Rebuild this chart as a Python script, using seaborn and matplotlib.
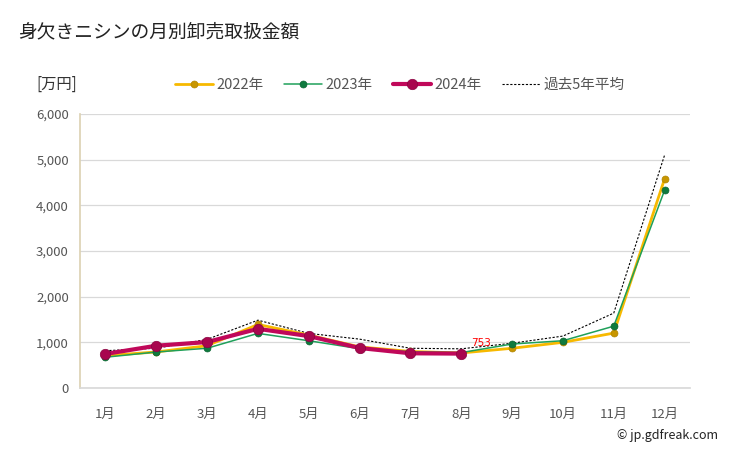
import matplotlib
matplotlib.use("Agg")
import matplotlib.pyplot as plt
import seaborn as sns
import pandas as pd
import numpy as np

months = ["1月", "2月", "3月", "4月", "5月", "6月", "7月", "8月", "9月", "10月", "11月", "12月"]
v2022 = [709, 789, 926, 1391, 1160, 900, 800, 767, 870, 1000, 1202, 4580]
v2023 = [674, 788, 870, 1196, 1035, 860, 795, 775, 963, 1035, 1354, 4330]
v2024 = [746, 926, 1006, 1296, 1137, 876, 760, 753]
avg5 = [817, 870, 1065, 1485, 1196, 1070, 870, 858, 980, 1137, 1640, 5100]
yticks = [0, 1000, 2000, 3000, 4000, 5000, 6000]

sns.set_theme(style="white")
plt.rcParams['font.family'] = ['Noto Sans CJK JP', 'DejaVu Sans']

fig = plt.figure(figsize=(7.29, 4.5), dpi=100)
ax = fig.add_axes([80/729, 1-388/450, 610/729, (388-114)/450])

x = np.arange(len(months))
sns.lineplot(x=x, y=avg5, ax=ax, color="black", linestyle=(0, (2, 1.5)), linewidth=0.8,
             label="過去5年平均", zorder=2)
sns.lineplot(x=x, y=v2022, ax=ax, color="#f7b900", linewidth=2, marker="o", markersize=5,
             markerfacecolor="#c89600", markeredgecolor="#b08400", markeredgewidth=0.5,
             label="2022年", zorder=3)
sns.lineplot(x=x, y=v2023, ax=ax, color="#1fa05a", linewidth=1.1, marker="o", markersize=5,
             markerfacecolor="#0e7a3e", markeredgecolor="#0b6532", markeredgewidth=0.5,
             label="2023年", zorder=4)
sns.lineplot(x=x[:len(v2024)], y=v2024, ax=ax, color="#c0085a", linewidth=3, marker="o", markersize=7.5,
             markerfacecolor="#a8064e", markeredgecolor="#8a0340", markeredgewidth=0.5,
             label="2024年", zorder=5)

ax.text(x[len(v2024)-1] + 0.2, v2024[-1] + 240, str(v2024[-1]), color="red", fontsize=7.5,
        ha="left", va="center", family=['DejaVu Sans'], zorder=10)

ax.set_xlim(-0.5, 11.5)
ax.set_ylim(0, 6000)
ax.set_yticks(yticks)
ax.set_yticklabels([f"{v:,}" for v in yticks])
ax.set_xticks(x)
ax.set_xticklabels(months)
ax.tick_params(axis="both", labelsize=9.5, colors="#555555", length=0, pad=8)
ax.tick_params(axis="x", pad=14)
ax.yaxis.grid(True, color="#d9d9d9", linewidth=0.9)
ax.set_axisbelow(True)
for s in ["top", "right"]:
    ax.spines[s].set_visible(False)
ax.spines["left"].set_color("#ddd3b5")
ax.spines["bottom"].set_color("#d9d9d9")
ax.set_xlabel("")
ax.set_ylabel("")

h, l = ax.get_legend_handles_labels()
order = [1, 2, 3, 0]
leg = fig.legend([h[i] for i in order], [l[i] for i in order], loc="center",
                 bbox_to_anchor=(400/729, 1-85/450), ncol=4, frameon=False, fontsize=10.5,
                 handlelength=2.6, columnspacing=1.4, handletextpad=0.25)
for t in leg.get_texts():
    t.set_color("#555555")
if ax.get_legend():
    ax.get_legend().remove()

fig.text(18/729, 1-32/450, "身欠きニシンの月別卸売取扱金額", fontsize=13.5, color="#222222", va="center", ha="left")
fig.text(36/729, 1-84/450, "[万円]", fontsize=11, color="#333333", va="center", ha="left")
fig.text(718/729, 1-436/450, "© jp.gdfreak.com", fontsize=9, color="#222222", va="center", ha="right")

fig.savefig("out.png", dpi=100)
